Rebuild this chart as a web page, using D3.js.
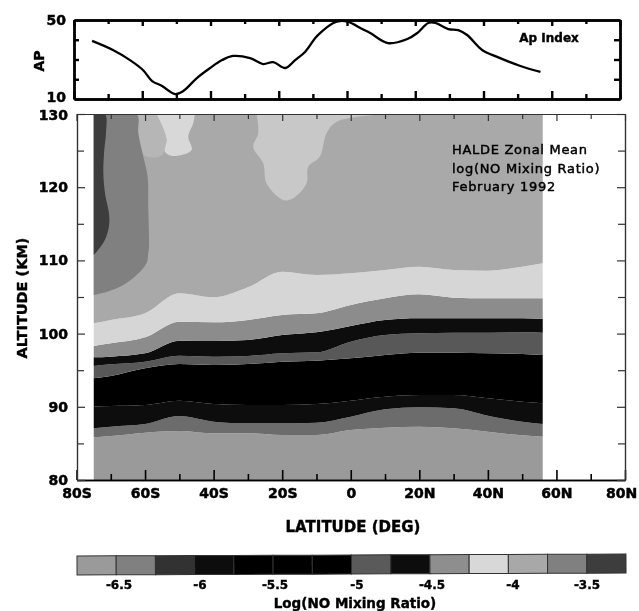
<!DOCTYPE html>
<html><head><meta charset="utf-8">
<script src="https://cdn.jsdelivr.net/npm/d3@7/dist/d3.min.js"></script>
<style>html,body{margin:0;padding:0;background:#fff}svg{display:block}text{font-family:"DejaVu Sans",sans-serif;fill:#000}</style>
</head><body><svg id="c" width="639" height="611"></svg>
<script>
// ---------- data ----------
const apLat = [-74.7,-68.6,-63.6,-59.8,-57.1,-54.2,-50.4,-48,-44,-40.1,-36.6,-33.4,-28.4,-24.6,-21.6,-18.1,-15.2,-12.3,-9.3,-7.9,-4,-2,0.4,4.5,6.8,12,17.7,20.6,23.8,25.9,29.7,32.6,35.2,39.6,44,50.8,56.7];
const apVal = [39.4,34.8,29.7,24.7,19.1,16.6,12.5,14,20.6,25.7,29.7,31.8,30.7,27.7,28.7,25.7,29.7,33.8,40.9,43.4,48.5,49.5,49,45.4,43.4,38.3,40.4,43.4,48.5,48.5,45.4,44.9,42.4,34.8,31.3,26.7,23.7];

const lats = [-75,-70,-60,-50,-40,-30,-20,-10,0,10,20,30,40,50,56];
const b0 = [80,80,80,80,80,80,80,80,80,80,80,80,80,80,80];
const b1 = [85.83,86.01,86.47,86.69,86.38,86.38,86.15,86.15,86.83,87.15,87.29,87.06,86.6,86.1,85.92];
const b2 = [87.06,87.29,87.65,88.74,87.97,87.74,87.74,87.83,88.65,89.65,89.93,89.79,88.79,87.97,87.65];
const b3 = [90.0,90.1,90.25,90.84,90.38,90.25,90.25,90.38,90.84,91.38,91.61,91.61,91.16,90.7,90.47];
const b4 = [93.89,94.21,95.25,95.85,95.71,95.85,96.17,96.3,96.62,97.08,97.4,97.4,97.3,97.21,97.08];
const b5 = [95.57,95.8,96.17,96.99,96.85,96.94,97.3,97.44,98.9,99.81,100.04,100.13,100.13,100.17,100.13];
const b6 = [96.76,96.85,97.3,99.03,98.99,99.13,99.81,100.17,101.04,101.86,102.09,102.09,102.09,102.09,101.99];
const b7 = [98.31,98.67,99.49,101.63,101.54,101.86,102.54,102.77,103.91,104.82,105.36,104.91,104.82,104.82,104.82];
const b8 = [101.4,101.86,102.77,105.5,104.95,106.32,108.46,108.0,108.23,108.69,109.14,108.69,108.6,109.14,109.6];
const b9 = [130,130,130,130,130,130,130,130,130,130,130,130,130,130,130];
const bandLimits = [b0,b1,b2,b3,b4,b5,b6,b7,b8,b9];
const bandGrey = ["#9a9a9a","#6c6c6c","#0a0a0a","#000000","#585858","#080808","#8c8c8c","#d6d6d6","#a9a9a9"];

const midLat = [-75,-62.46,-61.97,-60.5,-59.25,-59.06,-58.86,-59.06,-59.54,-62.46,-66.35,-71.2,-75];
const midAlt = [130,130,127.36,124.17,121.44,117.34,111.7,111.0,109.64,108.0,106.64,105.68,105.27];
const darkLat = [-75,-71.69,-71.4,-71.89,-72.17,-71.69,-70.43,-70.72,-72.17,-75];
const darkAlt = [130,130,127.36,125.1,121.9,119.2,116,114.2,112.4,110.7];
const paleLat = [-62.46,-61.97,-60.5,-55,-54.5,-56.6];
const paleAlt = [130,127.36,124.4,124.4,130,130];
const lightALat = [-56.63,-54.68,-53.71,-54.2,-51.77,-46.42,-47.39,-45.94,-45.45];
const lightAAlt = [130,128.05,126.45,124.85,124.26,125.08,126.9,128.73,130];
const lightBLat = [-27.47,-26.98,-28.44,-25.52,-24.55,-19.7,-16.78,-12.9,-12.4,-9,-7.06,-4.1,10.4];
const lightBAlt = [130,127.36,125.5,123.26,120.5,118.25,118.5,120.5,122.8,124.2,127.36,128.95,130];

const latTicks = [-80,-60,-40,-20,0,20,40,60,80];
const latMinor = [-70,-50,-30,-10,10,30,50,70];
const latLabels = ["80S","60S","40S","20S","0","20N","40N","60N","80N"];
const altTicks = [80,90,100,110,120,130];
const altMinor = [85,95,105,115,125];
const apTicks = [10,50];
const apMinor = [20,30,40];

const legendGrey = ["#9a9a9a","#808080","#303030","#0c0c0c","#000000","#000000","#000000","#5a5a5a","#0e0e0e","#8e8e8e","#d8d8d8","#a8a8a8","#808080","#3c3c3c"];
const legendEdges = d3.range(0,15);
const legendTicks = [119,200,275,357,432,513,587];
const legendLabels = ["-6.5","-6","-5.5","-5","-4.5","-4","-3.5"];

// ---------- drawing ----------
const svg = d3.select("#c");
const defs = svg.append("defs");
defs.append("filter").attr("id","scan").attr("filterUnits","userSpaceOnUse").attr("x",0).attr("y",0).attr("width",639).attr("height",611)
  .append("feGaussianBlur").attr("stdDeviation",0.6);
const root = svg.append("g").attr("filter","url(#scan)");

const x = d3.scaleLinear([-80,80],[76.5,625]);
const y = d3.scaleLinear([80,130],[480,114]);
const xT = d3.scaleLinear([-80,80],[74,620]);
const yT = d3.scaleLinear([10,50],[99,20]);

// contour bands
defs.append("clipPath").attr("id","data").append("rect")
  .attr("x",x(-75.1)).attr("y",y(130)).attr("width",x(56.2)-x(-75.1)).attr("height",y(80)-y(130));
const plot = root.append("g").attr("clip-path","url(#data)");
bandGrey.forEach((g,i)=>{
  const lo = bandLimits[i], hi = bandLimits[i+1];
  const area = d3.area().x((d,k)=>x(lats[k])).y0((d,k)=>y(lo[k])).y1((d,k)=>y(hi[k])).curve(d3.curveMonotoneX);
  plot.append("path").attr("d",area(lats)).attr("fill",g);
});
function patch(la,al,fill){
  const line = d3.line().x((d,k)=>x(la[k])).y((d,k)=>y(al[k])).curve(d3.curveCatmullRom);
  plot.append("path").attr("d",line(la)+"Z").attr("fill",fill);
}
patch(paleLat,paleAlt,"#b6b6b6");
patch(midLat,midAlt,"#808080");
patch(darkLat,darkAlt,"#3c3c3c");
patch(lightALat,lightAAlt,"#d8d8d8");
patch(lightBLat,lightBAlt,"#c8c8c8");

function styl(g,color,w){
  g.selectAll("line").attr("stroke",color).attr("stroke-width",w);
  g.selectAll("path").attr("stroke",color).attr("stroke-width",w).attr("fill","none");
  g.selectAll("text").style("font-weight","bold").style("font-size","14px").style("stroke","#000").style("stroke-width","0.5px");
}
// main axes
const latFmt = d=>latLabels[latTicks.indexOf(d)];
function ax(gen,tx,ty,color,w){
  const g = root.append("g").attr("transform",`translate(${tx},${ty})`).call(gen);
  styl(g,color,w); return g;
}
const bMain = ax(d3.axisBottom(x).tickValues(latTicks).tickSizeInner(-10).tickSizeOuter(0).tickFormat(latFmt).tickPadding(8),0,480,"#000",1.6);
bMain.selectAll("text").attr("y",8).attr("dy","0.71em");
bMain.selectAll("text").filter(d=>d===80).attr("x",-4);
ax(d3.axisBottom(x).tickValues(latMinor).tickSizeInner(-6).tickSizeOuter(0).tickFormat(""),0,480,"#000",1.6);
ax(d3.axisTop(x).tickValues(latTicks).tickSizeInner(-7).tickSizeOuter(0).tickFormat(""),0,114,"#333",1.2);
ax(d3.axisTop(x).tickValues(latMinor).tickSizeInner(-5).tickSizeOuter(0).tickFormat(""),0,114,"#333",1.2);
const lMain = ax(d3.axisLeft(y).tickValues(altTicks).tickSizeInner(-8).tickSizeOuter(0).tickPadding(10),77,0,"#333",1.2);
lMain.selectAll("text").attr("x",-9);
lMain.selectAll("text").filter(d=>d===130).attr("y",1.5);
ax(d3.axisLeft(y).tickValues(altMinor).tickSizeInner(-7).tickSizeOuter(0).tickFormat(""),77,0,"#333",1.2);
ax(d3.axisRight(y).tickValues(altTicks).tickSizeInner(-8).tickSizeOuter(0).tickFormat(""),625,0,"#333",1.2);
ax(d3.axisRight(y).tickValues(altMinor).tickSizeInner(-7).tickSizeOuter(0).tickFormat(""),625,0,"#333",1.2);

// AP panel
ax(d3.axisBottom(xT).tickValues(latTicks).tickSizeInner(-8).tickSizeOuter(0).tickFormat(""),0,99,"#000",2.4);
ax(d3.axisBottom(xT).tickValues(latMinor).tickSizeInner(-5).tickSizeOuter(0).tickFormat(""),0,99,"#000",2.4);
ax(d3.axisTop(xT).tickValues(latTicks).tickSizeInner(-6).tickSizeOuter(0).tickFormat(""),0,20,"#000",2.4);
ax(d3.axisTop(xT).tickValues(latMinor).tickSizeInner(-4).tickSizeOuter(0).tickFormat(""),0,20,"#000",2.4);
const lT = ax(d3.axisLeft(yT).tickValues(apTicks).tickSizeInner(0).tickSizeOuter(0),74,0,"#000",2.4);
lT.selectAll("text").attr("x",-8);
lT.selectAll("text").filter(d=>d===10).attr("y",-2);
ax(d3.axisLeft(yT).tickValues(apMinor).tickSizeInner(-5).tickSizeOuter(0).tickFormat(""),74,0,"#000",2.4);
ax(d3.axisRight(yT).tickValues(apMinor).tickSizeInner(-6).tickSizeOuter(0).tickFormat(""),620,0,"#000",2.4);
ax(d3.axisRight(yT).tickValues([]).tickSizeOuter(0),620,0,"#000",2.4);
const apLine = d3.line().x((d,k)=>xT(apLat[k])).y((d,k)=>yT(apVal[k])).curve(d3.curveCatmullRom);
root.append("path").attr("d",apLine(apLat)).attr("fill","none").attr("stroke","#000").attr("stroke-width",2.3);

// labels
function label(t,px,py,size,anchor,rot,weight,stroke){
  const s = root.append("text").attr("x",px).attr("y",py).attr("text-anchor",anchor||"middle")
    .attr("dominant-baseline","central").style("font-size",size+"px").style("font-weight",weight||"bold")
    .style("stroke","#000").style("stroke-width",(stroke===undefined?0.4:stroke)+"px").text(t);
  if(rot) s.attr("transform",`rotate(${rot} ${px} ${py})`);
  return s;
}
label("AP",39,61,14,"middle",-90);
label("ALTITUDE (KM)",22,298,14.5,"middle",-90);
label("LATITUDE (DEG)",353,527,15);
label("Log(NO Mixing Ratio)",355,603,13.5);
label("Ap Index",549,38,12);
["HALDE Zonal Mean","log(NO Mixing Ratio)","February 1992"].forEach((t,i)=>{
  label(t,452,[149,168,186][i],13,"start",0,"500",0.45).style("letter-spacing","0.7px");
});

// colour key
const kx = d3.scaleLinear([0,14],[77,626]);
const key = root.append("g").attr("transform","rotate(-0.2 350 564)");
key.selectAll("rect").data(legendGrey).join("rect")
  .attr("x",(d,i)=>kx(legendEdges[i])).attr("y",555).attr("width",(d,i)=>kx(legendEdges[i+1])-kx(legendEdges[i])).attr("height",19)
  .attr("fill",d=>d).attr("stroke","#333").attr("stroke-width",1);
legendLabels.forEach((t,i)=>label(t,legendTicks[i],585,12));
</script></body></html>
